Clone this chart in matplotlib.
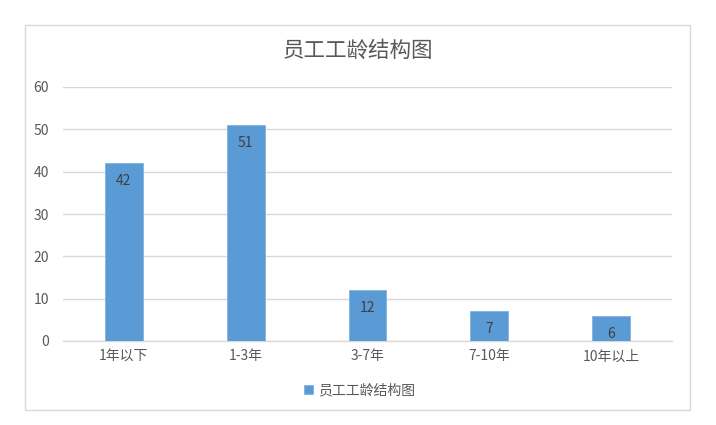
import matplotlib
matplotlib.use("Agg")
import matplotlib.pyplot as plt
from matplotlib.patches import Rectangle

plt.rcParams['font.family'] = ['Noto Sans CJK SC', 'DejaVu Sans']

categories = ["1年以下", "1-3年", "3-7年", "7-10年", "10年以上"]
values = [42, 51, 12, 7, 6]
series_name = "员工工龄结构图"
title = "员工工龄结构图"
yticks = [0, 10, 20, 30, 40, 50, 60]

W, H = 716, 425
fig = plt.figure(figsize=(W / 100, H / 100), dpi=100)
fig.patch.set_facecolor("white")

# chart border
fig.patches.append(Rectangle((25 / W, 1 - 410 / H), 665 / W, 385 / H,
                             transform=fig.transFigure, fill=False,
                             edgecolor="#D9D9D9", linewidth=1.0))

ax = fig.add_axes([63 / W, 1 - 341 / H, 609 / W, 254 / H])
bar_color = "#5B9BD5"
x = list(range(len(categories)))
bars = ax.bar(x, values, width=0.31, color=bar_color, edgecolor="#7FB2E0",
              linewidth=0.6, label=series_name, zorder=3)

ax.set_xlim(-0.5, len(categories) - 0.5)
ax.set_ylim(0, 60)
ax.set_yticks(yticks)
ax.set_xticks(x)
ax.set_xticklabels(categories)
ax.tick_params(axis="both", length=0, colors="#595959", labelsize=10)
ax.tick_params(axis="y", pad=10)
ax.tick_params(axis="x", pad=6)
ax.yaxis.grid(True, color="#D9D9D9", linewidth=1.0, zorder=0)
for s in ["top", "right", "left"]:
    ax.spines[s].set_visible(False)
ax.spines["bottom"].set_color("#D9D9D9")
ax.spines["bottom"].set_linewidth(1.0)

for rect, v in zip(bars, values):
    ax.annotate(str(v), (rect.get_x() + rect.get_width() / 2, v),
                xytext=(0, -18), textcoords="offset pixels",
                ha="center", va="center", fontsize=10, color="#404040",
                zorder=4)

fig.text(358 / W, 1 - 51 / H, title, ha="center", va="center",
         fontsize=15.5, color="#595959")

leg = fig.legend(handles=[bars], labels=[series_name], loc="center",
                 bbox_to_anchor=(360 / W, 1 - 390 / H), frameon=False,
                 fontsize=10, handlelength=0.6, handleheight=0.6,
                 handletextpad=0.4, labelcolor="#595959")

fig.savefig("out.png", dpi=100)
